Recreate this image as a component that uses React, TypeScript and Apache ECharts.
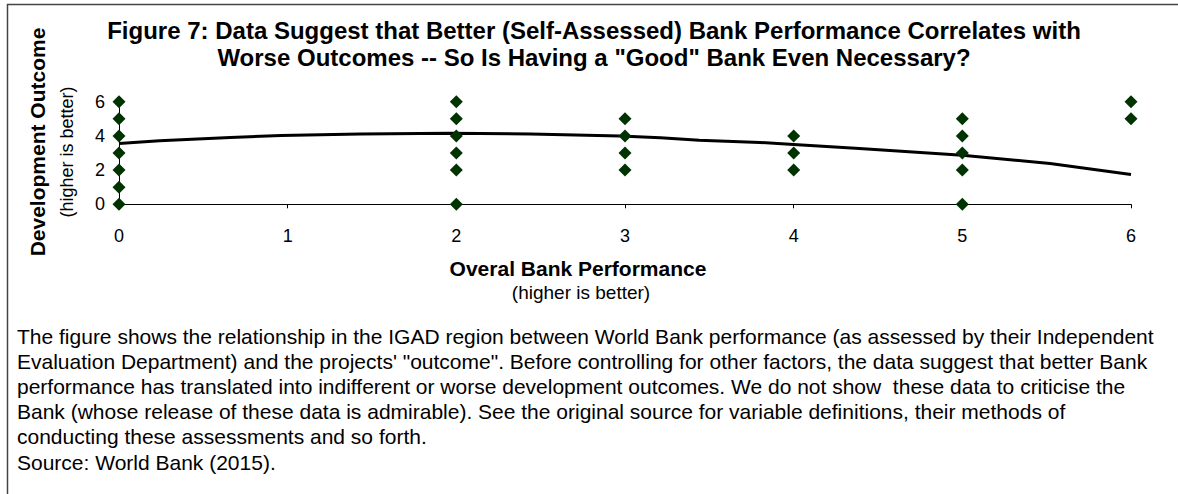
import React, { useEffect, useRef } from "react";
import * as echarts from "echarts";

// ---- Data ----
const xTickLabels = ["0", "1", "2", "3", "4", "5", "6"];
const yTickLabels = ["0", "2", "4", "6"];

// Observed outcome ratings per bank-performance rating
const perf0Outcomes = [0, 1, 2, 3, 4, 5, 6];
const perf2Outcomes = [0, 2, 3, 4, 5, 6];
const perf3Outcomes = [2, 3, 4, 5];
const perf4Outcomes = [2, 3, 4];
const perf5Outcomes = [0, 2, 3, 4, 5];
const perf6Outcomes = [5, 6];

// Smoothed trend line
const trendX = [0, 0.24, 0.66, 0.96, 1.43, 1.96, 2.44, 2.97, 3.21, 3.44, 3.8, 4.0, 4.39, 5.0, 5.52, 6.0];
const trendY = [3.56, 3.71, 3.91, 4.03, 4.11, 4.15, 4.11, 4.0, 3.89, 3.75, 3.62, 3.5, 3.27, 2.87, 2.39, 1.74];

const titleLines = [
  "Figure 7: Data Suggest that Better (Self-Assessed) Bank Performance Correlates with",
  'Worse Outcomes -- So Is Having a "Good" Bank Even Necessary?',
];
const yTitle = "Development Outcome";
const ySubtitle = "(higher is better)";
const xTitle = "Overal Bank Performance";
const xSubtitle = "(higher is better)";
const captionLines = [
  "The figure shows the relationship in the IGAD region between World Bank performance (as assessed by their Independent",
  "Evaluation Department) and the projects' \"outcome\". Before controlling for other factors, the data suggest that better Bank",
  "performance has translated into indifferent or worse development outcomes. We do not show  these data to criticise the",
  "Bank (whose release of these data is admirable). See the original source for variable definitions, their methods of",
  "conducting these assessments and so forth.",
  "Source: World Bank (2015).",
];

const FONT = "'Liberation Sans', Arial, sans-serif";

export default function App() {
  const ref = useRef<HTMLDivElement>(null);

  useEffect(() => {
    document.body.style.margin = "0";
    if (!ref.current) return;
    const chart = echarts.init(ref.current, undefined, { renderer: "svg" });

    const groups: [number, number[]][] = [
      [0, perf0Outcomes],
      [2, perf2Outcomes],
      [3, perf3Outcomes],
      [4, perf4Outcomes],
      [5, perf5Outcomes],
      [6, perf6Outcomes],
    ];
    const scatterData: number[][] = [];
    groups.forEach(([x, ys]) => ys.forEach((y) => scatterData.push([x, y])));
    const trendData = trendX.map((x, i) => [x, trendY[i]]);

    const graphics: any[] = [
      // frame
      { type: "line", shape: { x1: 7, y1: 4.5, x2: 1178, y2: 4.5 }, style: { stroke: "#444", lineWidth: 1.5 }, silent: true },
      { type: "line", shape: { x1: 7.5, y1: 4, x2: 7.5, y2: 494 }, style: { stroke: "#444", lineWidth: 1.5 }, silent: true },
    ];
    titleLines.forEach((t, i) => {
      graphics.push({
        type: "text",
        x: 594,
        y: 30 + i * 27.5,
        style: { text: t, fontFamily: FONT, fontWeight: "bold", fontSize: 24, fill: "#000", align: "center", verticalAlign: "middle" },
      });
    });
    graphics.push({
      type: "text",
      x: 37,
      y: 142,
      rotation: Math.PI / 2,
      style: { text: yTitle, fontFamily: FONT, fontWeight: "bold", fontSize: 21, fill: "#000", align: "center", verticalAlign: "middle" },
    });
    graphics.push({
      type: "text",
      x: 67,
      y: 152,
      rotation: Math.PI / 2,
      style: { text: ySubtitle, fontFamily: FONT, fontSize: 18, fill: "#000", align: "center", verticalAlign: "middle" },
    });
    graphics.push({
      type: "text",
      x: 578,
      y: 268,
      style: { text: xTitle, fontFamily: FONT, fontWeight: "bold", fontSize: 21, fill: "#000", align: "center", verticalAlign: "middle" },
    });
    graphics.push({
      type: "text",
      x: 581,
      y: 292,
      style: { text: xSubtitle, fontFamily: FONT, fontSize: 19, fill: "#000", align: "center", verticalAlign: "middle" },
    });
    captionLines.forEach((t, i) => {
      graphics.push({
        type: "text",
        x: 17,
        y: 336 + i * 25.2,
        style: { text: t, fontFamily: FONT, fontSize: 21, fill: "#000", align: "left", verticalAlign: "middle" },
      });
    });

    chart.setOption({
      animation: false,
      backgroundColor: "#fff",
      textStyle: { fontFamily: FONT },
      grid: { left: 119, right: 47, top: 101.7, bottom: 289.7, containLabel: false },
      xAxis: {
        type: "value",
        min: 0,
        max: 6,
        interval: 1,
        axisLine: { show: true, onZero: false, lineStyle: { color: "#000", width: 1 } },
        axisTick: { show: true, length: 4, inside: false, lineStyle: { color: "#000" } },
        axisLabel: {
          fontSize: 18,
          color: "#000",
          margin: 23,
          fontFamily: FONT,
          formatter: (v: number) => xTickLabels[Math.round(v)] ?? "",
        },
        splitLine: { show: false },
      },
      yAxis: {
        type: "value",
        min: 0,
        max: 6,
        interval: 2,
        axisLine: { show: true, onZero: false, lineStyle: { color: "#000", width: 1 } },
        axisTick: { show: false },
        axisLabel: {
          fontSize: 18,
          color: "#000",
          margin: 14,
          fontFamily: FONT,
          formatter: (v: number) => yTickLabels[Math.round(v / 2)] ?? "",
        },
        splitLine: { show: false },
      },
      series: [
        {
          type: "line",
          data: trendData,
          showSymbol: false,
          smooth: false,
          lineStyle: { color: "#000", width: 3 },
          z: 2,
        },
        {
          type: "scatter",
          data: scatterData,
          symbol: "diamond",
          symbolSize: 13,
          itemStyle: { color: "#003300", opacity: 1 },
          z: 3,
        },
      ],
      graphic: graphics,
    });

    return () => chart.dispose();
  }, []);

  return <div ref={ref} style={{ width: 1178, height: 494 }} />;
}
